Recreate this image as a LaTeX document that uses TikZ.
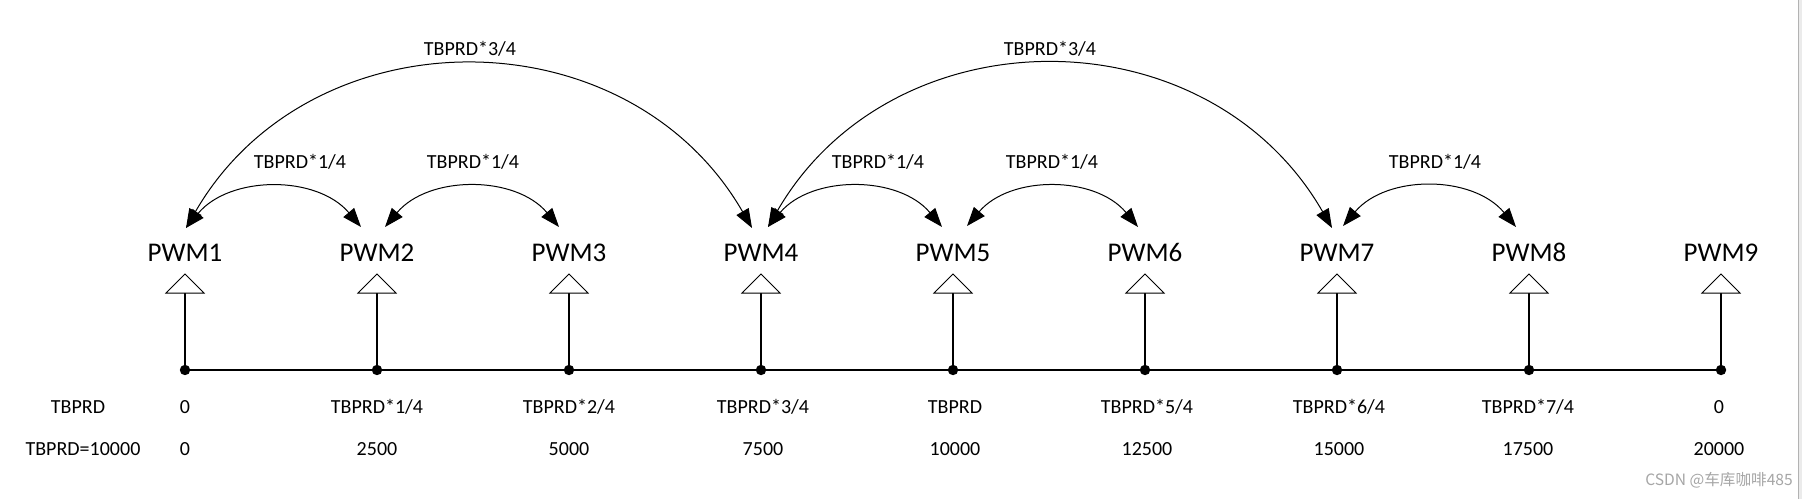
\documentclass[tikz,border=0pt]{standalone}
\usepackage{fontspec}
\setmainfont{Carlito}
\newfontfamily\cjkfont{Noto Sans CJK SC}
\usetikzlibrary{arrows.meta}
\begin{document}
\begin{tikzpicture}[x=0.5pt,y=0.5pt,
  pwm/.style={font=\fontsize{13.5pt}{16pt}\selectfont, anchor=base, inner sep=0pt},
  lbl/.style={font=\fontsize{10pt}{12pt}\selectfont, anchor=base, inner sep=0pt},
  arcline/.style={line width=0.5pt, {Triangle[length=9.5pt,width=7pt]}-{Triangle[length=9.5pt,width=7pt]}},
  stemline/.style={line width=0.75pt},
  tri/.style={line width=0.5pt, fill=white},
  dotnode/.style={circle, fill=black, inner sep=0pt, minimum size=5.2pt},
  wmark/.style={font=\cjkfont\fontsize{7.8pt}{9pt}\selectfont, text=black!35, anchor=base, inner sep=0pt},
]
\useasboundingbox (0,0) rectangle (1802,499);
\fill[white] (0,0) rectangle (1802,499);
\fill[black!8] (1798,0) rectangle (1802,499);
\draw[black!30, line width=0.5pt] (1798.5,0) -- (1798.5,499);

% baseline
\coordinate (base1) at (185,129);
\coordinate (base9) at (1721,129);
\draw[stemline] (base1) -- (base9);

\foreach \i/\x in {1/185,2/377,3/569,4/761,5/953,6/1145,7/1337,8/1529,9/1721} {
  \node[dotnode] (d\i) at (\x,129) {};
  \coordinate (b\i) at (\x,206);
  \draw[stemline] (d\i.center) -- (b\i);
  \draw[tri] (\x-19,206) -- (\x,225) -- (\x+19,206) -- cycle;
  \node[pwm] (p\i) at (\x,238) {PWM\i};
}

% arrow end points
\coordinate (t1r) at (186,271);
\coordinate (t2l) at (361,272);
\coordinate (t2r) at (385,272);
\coordinate (t3l) at (559,272);
\coordinate (t4l) at (752,271);
\coordinate (t4r) at (768,272);
\coordinate (t5l) at (942,272);
\coordinate (t5r) at (967,273);
\coordinate (t6l) at (1138,272);
\coordinate (t7l) at (1332,271);
\coordinate (t7r) at (1343,273);
\coordinate (t8l) at (1516,272);

% big arcs
\draw[arcline] (t1r) to[bend left=60, looseness=1.13] (t4l);
\draw[arcline] (t4r) to[bend left=60, looseness=1.13] (t7l);
% small arcs
\draw[arcline] (t1r) to[bend left=50] (t2l);
\draw[arcline] (t2r) to[bend left=50] (t3l);
\draw[arcline] (t4r) to[bend left=50] (t5l);
\draw[arcline] (t5r) to[bend left=50] (t6l);
\draw[arcline] (t7r) to[bend left=50] (t8l);

% arc labels
\node[lbl] (lb1) at (470,443) {TBPRD*3/4};
\node[lbl] (lb2) at (1050,443) {TBPRD*3/4};
\node[lbl] (ls1) at (300,331) {TBPRD*1/4};
\node[lbl] (ls2) at (473,331) {TBPRD*1/4};
\node[lbl] (ls3) at (878,331) {TBPRD*1/4};
\node[lbl] (ls4) at (1052,331) {TBPRD*1/4};
\node[lbl] (ls5) at (1435,331) {TBPRD*1/4};

% bottom rows
\node[lbl] (h1) at (78,86) {TBPRD};
\node[lbl] (h2) at (83,44) {TBPRD=10000};
\foreach \j/\x/\a/\b in {1/185/{0}/{0}, 2/377/{TBPRD*1/4}/{2500}, 3/569/{TBPRD*2/4}/{5000},
  4/763/{TBPRD*3/4}/{7500}, 5/955/{TBPRD}/{10000}, 6/1147/{TBPRD*5/4}/{12500},
  7/1339/{TBPRD*6/4}/{15000}, 8/1528/{TBPRD*7/4}/{17500}, 9/1719/{0}/{20000}} {
  \node[lbl] (r\j) at (\x,86) {\a};
  \node[lbl] (v\j) at (\x,44) {\b};
}

\node[wmark] (wm) at (1719,14) {CSDN @车库咖啡485};
\end{tikzpicture}
\end{document}
